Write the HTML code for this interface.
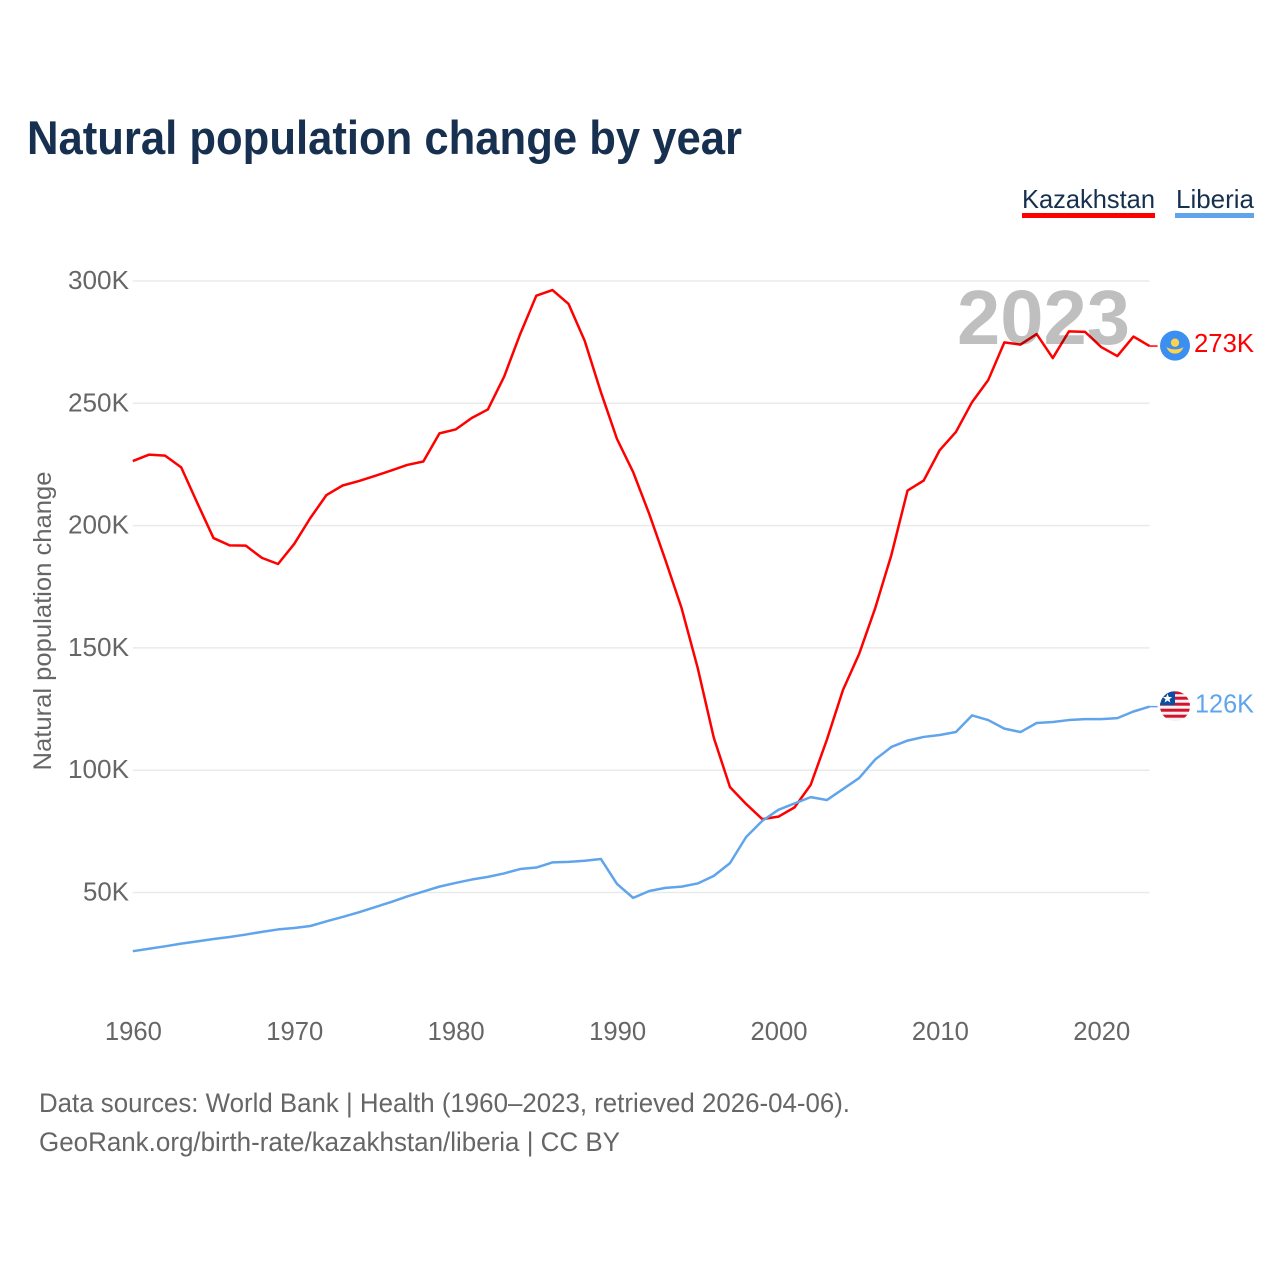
<!DOCTYPE html>
<html lang="en">
<head>
<meta charset="utf-8">
<title>Natural population change by year</title>
<style>
html,body{margin:0;padding:0;background:#fff;}
svg{display:block;font-family:"Liberation Sans","DejaVu Sans",sans-serif;}
</style>
</head>
<body>
<svg id="chart" xmlns="http://www.w3.org/2000/svg" width="1280" height="1280" viewBox="0 0 1280 1280">
  <rect x="0" y="0" width="1280" height="1280" fill="#ffffff"/>
  <text x="27" y="154" font-size="47" font-weight="700" fill="#17304f" textLength="715" lengthAdjust="spacingAndGlyphs">Natural population change by year</text>

  <g>
    <text x="1022" y="208" font-size="26" fill="#17304f" textLength="133" lengthAdjust="spacingAndGlyphs">Kazakhstan</text>
    <rect x="1022" y="213" width="133" height="5" fill="#ff0000"/>
  </g>
  <g>
    <text x="1176" y="208" font-size="26" fill="#17304f" textLength="78" lengthAdjust="spacingAndGlyphs">Liberia</text>
    <rect x="1175" y="213" width="79" height="5" fill="#60a5ec"/>
  </g>

  <g id="grid"></g>
  <g id="yticks"></g>
  <g id="xticks"></g>
  <text transform="translate(51,621) rotate(-90)" text-anchor="middle" font-size="25" fill="#666666" textLength="299" lengthAdjust="spacingAndGlyphs">Natural population change</text>

  <g id="series"></g>

  <text id="year-watermark" x="1130" y="344" text-anchor="end" font-size="77" font-weight="700" fill="#000000" fill-opacity="0.25" textLength="173" lengthAdjust="spacingAndGlyphs">2023</text>

  <g id="flag-kz">
    <circle cx="0" cy="0" r="15" fill="#3a8ff0"/>
    <circle cx="0" cy="-3" r="4.2" fill="#ffd24a"/>
    <path d="M-8.5,1.5 Q0,6 8.5,1.5 Q6,8 0,8 Q-6,8 -8.5,1.5 Z" fill="#ffd24a"/>
  </g>
  <g id="flag-lr">
    <defs><clipPath id="lr-clip"><circle cx="0" cy="0" r="15"/></clipPath></defs>
    <g clip-path="url(#lr-clip)">
      <rect x="-15" y="-15" width="30" height="30" fill="#f3f3f3"/>
      <rect x="-15" y="-15" width="30" height="3" fill="#d6112e"/>
      <rect x="-15" y="-9.5" width="30" height="3" fill="#d6112e"/>
      <rect x="-15" y="-3.5" width="30" height="3" fill="#d6112e"/>
      <rect x="-15" y="2.5" width="30" height="3" fill="#d6112e"/>
      <rect x="-15" y="8.5" width="30" height="3" fill="#d6112e"/>
      <rect x="-15" y="-15" width="15" height="14" fill="#0a4ea2"/>
      <polygon points="-7.5,-12.5 -6.2,-9.2 -2.8,-9.2 -5.5,-7 -4.6,-3.7 -7.5,-5.6 -10.4,-3.7 -9.5,-7 -12.2,-9.2 -8.8,-9.2" fill="#ffffff"/>
    </g>
  </g>

  <text id="label-kz" x="1254" y="352" text-anchor="end" font-size="26" fill="#ff0000" textLength="60" lengthAdjust="spacingAndGlyphs"></text>
  <text id="label-lr" x="1254" y="713" text-anchor="end" font-size="26" fill="#60a5ec" textLength="59" lengthAdjust="spacingAndGlyphs"></text>

  <text x="39" y="1112" font-size="27" fill="#666666" textLength="811" lengthAdjust="spacingAndGlyphs">Data sources: World Bank | Health (1960–2023, retrieved 2026-04-06).</text>
  <text x="39" y="1151" font-size="27" fill="#666666" textLength="581" lengthAdjust="spacingAndGlyphs">GeoRank.org/birth-rate/kazakhstan/liberia | CC BY</text>
</svg>

<script>
const firstYear = 1960;
const xTickYears = [1960, 1970, 1980, 1990, 2000, 2010, 2020];
const yTickValues = [50, 100, 150, 200, 250, 300];
const kazakhstan = [
  226.4, 229, 228.6, 223.8, 209.2, 194.9, 191.9, 191.8, 186.8, 184.3,
  192.5, 203.1, 212.5, 216.4, 218.2, 220.3, 222.5, 224.8, 226.2, 237.7,
  239.3, 244, 247.5, 260.8, 278.3, 294, 296.3, 290.6, 275.5, 254.6,
  235.4, 221.9, 204.7, 185.9, 166.3, 141.8, 113.2, 93.1, 86.2, 80,
  81, 84.8, 94, 112.4, 132.8, 147.5, 166.3, 188, 214.3, 218.4,
  230.9, 238.3, 250.5, 259.5, 274.9, 274, 278.3, 268.5, 279.4, 279.2,
  273, 269.3, 277.3, 273.4
];
const liberia = [
  26, 27, 28, 29.1, 30, 31, 31.8, 32.8, 33.9, 34.9,
  35.5, 36.3, 38.2, 40, 41.9, 44, 46.1, 48.4, 50.4, 52.4,
  53.9, 55.3, 56.4, 57.8, 59.6, 60.2, 62.3, 62.5, 63, 63.7,
  53.5, 47.8, 50.6, 51.9, 52.4, 53.7, 56.8, 62, 72.7, 79.3,
  83.8, 86.4, 89, 87.8, 92.3, 96.8, 104.4, 109.5, 112.1, 113.6,
  114.4, 115.6, 122.4, 120.5, 117, 115.6, 119.3, 119.7, 120.5, 120.9,
  120.9, 121.3, 124, 126
];

const NS = 'http://www.w3.org/2000/svg';
const xScale = function (year) { return 132.8 + (year - 1960) * 16.14; };
const yScale = function (value) { return 281 + (300 - value) * 2.446; };

const grid = document.getElementById('grid');
const yticks = document.getElementById('yticks');
yTickValues.forEach(function (v) {
  const line = document.createElementNS(NS, 'line');
  
  
  line.setAttribute('x1', xScale(1960));
  line.setAttribute('x2', xScale(2023));
  line.setAttribute('y1', yScale(v));
  line.setAttribute('y2', yScale(v));
  line.setAttribute('stroke', '#eaeaea');
  line.setAttribute('stroke-width', '1.5');
  grid.appendChild(line);

  const label = document.createElementNS(NS, 'text');
  
  
  label.setAttribute('x', 129);
  label.setAttribute('y', yScale(v) + 8);
  label.setAttribute('text-anchor', 'end');
  label.setAttribute('font-size', '25.5');
  label.setAttribute('fill', '#666666');
  label.setAttribute('textLength', String(v).length * 15 + 16);
  label.setAttribute('lengthAdjust', 'spacingAndGlyphs');
  label.textContent = v + 'K';
  yticks.appendChild(label);
});

const xticks = document.getElementById('xticks');
xTickYears.forEach(function (y) {
  const label = document.createElementNS(NS, 'text');
  
  
  label.setAttribute('x', xScale(y) + 0.6);
  label.setAttribute('y', 1040);
  label.setAttribute('text-anchor', 'middle');
  label.setAttribute('font-size', '25.5');
  label.setAttribute('fill', '#666666');
  label.setAttribute('textLength', '57');
  label.setAttribute('lengthAdjust', 'spacingAndGlyphs');
  label.textContent = y;
  xticks.appendChild(label);
});

const pathFor = function (values) {
  return values.map(function (v, i) {
    return (i === 0 ? 'M' : 'L') + xScale(firstYear + i).toFixed(2) + ',' + yScale(v).toFixed(2);
  }).join(' ');
};
const seriesGroup = document.getElementById('series');

const kzLine = document.createElementNS(NS, 'path');


kzLine.setAttribute('d', pathFor(kazakhstan));
kzLine.setAttribute('fill', 'none');
kzLine.setAttribute('stroke', '#ff0000');
kzLine.setAttribute('stroke-width', '2.5');
kzLine.setAttribute('stroke-linejoin', 'round');
seriesGroup.appendChild(kzLine);

const lrLine = document.createElementNS(NS, 'path');


lrLine.setAttribute('d', pathFor(liberia));
lrLine.setAttribute('fill', 'none');
lrLine.setAttribute('stroke', '#60a5ec');
lrLine.setAttribute('stroke-width', '2.5');
lrLine.setAttribute('stroke-linejoin', 'round');
seriesGroup.appendChild(lrLine);

const lastKz = kazakhstan[kazakhstan.length - 1];
const lastLr = liberia[liberia.length - 1];
const endX = xScale(firstYear + kazakhstan.length - 1);

const kzConn = document.createElementNS(NS, 'line');


kzConn.setAttribute('x1', endX);
kzConn.setAttribute('x2', endX + 8);
kzConn.setAttribute('y1', yScale(lastKz));
kzConn.setAttribute('y2', yScale(lastKz));
kzConn.setAttribute('stroke', '#ff0000');
kzConn.setAttribute('stroke-width', '1.5');
seriesGroup.appendChild(kzConn);

const lrConn = document.createElementNS(NS, 'line');


lrConn.setAttribute('x1', endX);
lrConn.setAttribute('x2', endX + 8);
lrConn.setAttribute('y1', yScale(lastLr));
lrConn.setAttribute('y2', yScale(lastLr));
lrConn.setAttribute('stroke', '#60a5ec');
lrConn.setAttribute('stroke-width', '1.5');
seriesGroup.appendChild(lrConn);

document.getElementById('flag-kz').setAttribute('transform', 'translate(1175,' + (yScale(lastKz) - 0.4).toFixed(2) + ')');
document.getElementById('flag-lr').setAttribute('transform', 'translate(1175,' + (yScale(lastLr) - 0.4).toFixed(2) + ')');

const labelKz = document.getElementById('label-kz');
labelKz.textContent = Math.round(lastKz) + 'K';
labelKz.setAttribute('y', (yScale(lastKz) + 6).toFixed(2));
const labelLr = document.getElementById('label-lr');
labelLr.textContent = Math.round(lastLr) + 'K';
labelLr.setAttribute('y', (yScale(lastLr) + 6).toFixed(2));
</script>
</body>
</html>
